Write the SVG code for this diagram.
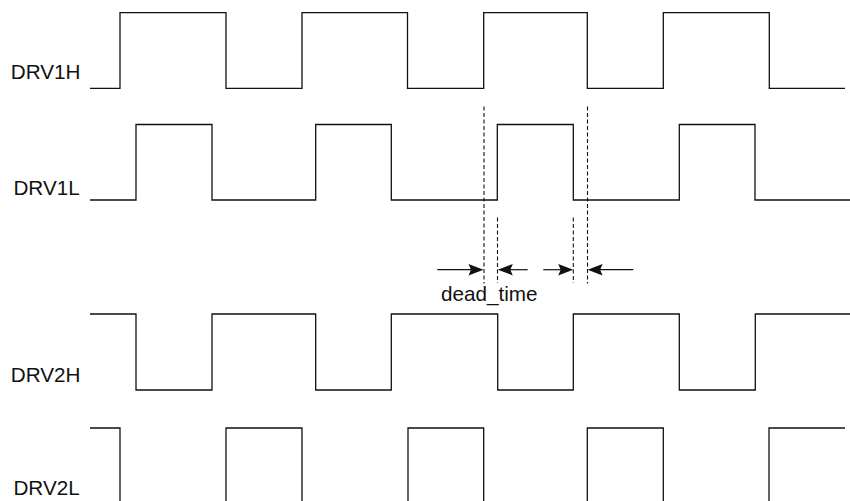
<svg xmlns="http://www.w3.org/2000/svg" width="850" height="501" viewBox="0 0 850 501">
<style>
.sig{fill:none;stroke:#111;stroke-width:1.3;stroke-linejoin:miter}
.lbl{font-family:"Liberation Sans",Arial,sans-serif;font-size:20.7px;fill:#111}
.dash{stroke:#111;stroke-width:1.1;stroke-dasharray:4,2.5;fill:none}
.arr{stroke:#111;stroke-width:1.2;fill:none}
.head{fill:#111;stroke:none}
</style>
<defs>
<path id="hr" class="head" d="M0,0 L-15,-5.7 L-12.5,0 L-15,5.7 Z"/>
</defs>
<rect width="850" height="501" fill="#fff"/>
<g id="drv1h">
<text class="lbl" x="10.7" y="79">DRV1H</text>
<path class="sig" d="M90,88.3 H120 V12.7 H226 V88.3 H302 V12.7 H407.5 V88.3 H483.7 V12.7 H587.3 V88.3 H663.3 V12.7 H769.3 V88.3 H845"/>
</g>
<g id="drv1l">
<text class="lbl" x="13.4" y="195">DRV1L</text>
<path class="sig" d="M90,200 H136 V124.5 H212 V200 H315.7 V124.5 H391.3 V200 H497.3 V124.5 H573.3 V200 H679.3 V124.5 H755 V200 H850"/>
</g>
<g id="drv2h">
<text class="lbl" x="10.7" y="381.7">DRV2H</text>
<path class="sig" d="M90,314 H136 V390 H212 V314 H315.7 V390 H391.3 V314 H497.7 V390 H573.3 V314 H679.3 V390 H755.3 V314 H850"/>
</g>
<g id="drv2l">
<text class="lbl" x="13.4" y="495">DRV2L</text>
<path class="sig" d="M90,428 H120 V503 M226,503 V428 H302 V503 M408,503 V428 H483.7 V503 M587.3,503 V428 H663.3 V503 M769,503 V428 H845"/>
</g>
<g id="connectors">
<line class="dash" x1="484" y1="106.5" x2="484" y2="283.5"/>
<line class="dash" x1="587.5" y1="106.5" x2="587.5" y2="283.5"/>
<line class="dash" x1="497.5" y1="217.5" x2="497.5" y2="283"/>
<line class="dash" x1="573.3" y1="217.5" x2="573.3" y2="283"/>
<line class="arr" x1="437.3" y1="269.7" x2="472" y2="269.7"/>
<use href="#hr" transform="translate(483.5,269.7)"/>
<line class="arr" x1="527.7" y1="269.7" x2="509" y2="269.7"/>
<use href="#hr" transform="translate(497.8,269.7) rotate(180)"/>
<line class="arr" x1="543.3" y1="269.7" x2="562" y2="269.7"/>
<use href="#hr" transform="translate(573.2,269.7)"/>
<line class="arr" x1="633.3" y1="269.7" x2="599" y2="269.7"/>
<use href="#hr" transform="translate(587.6,269.7) rotate(180)"/>
</g>
<g id="label-dead-time">
<text class="lbl" x="441" y="301">dead_time</text>
</g>
</svg>
